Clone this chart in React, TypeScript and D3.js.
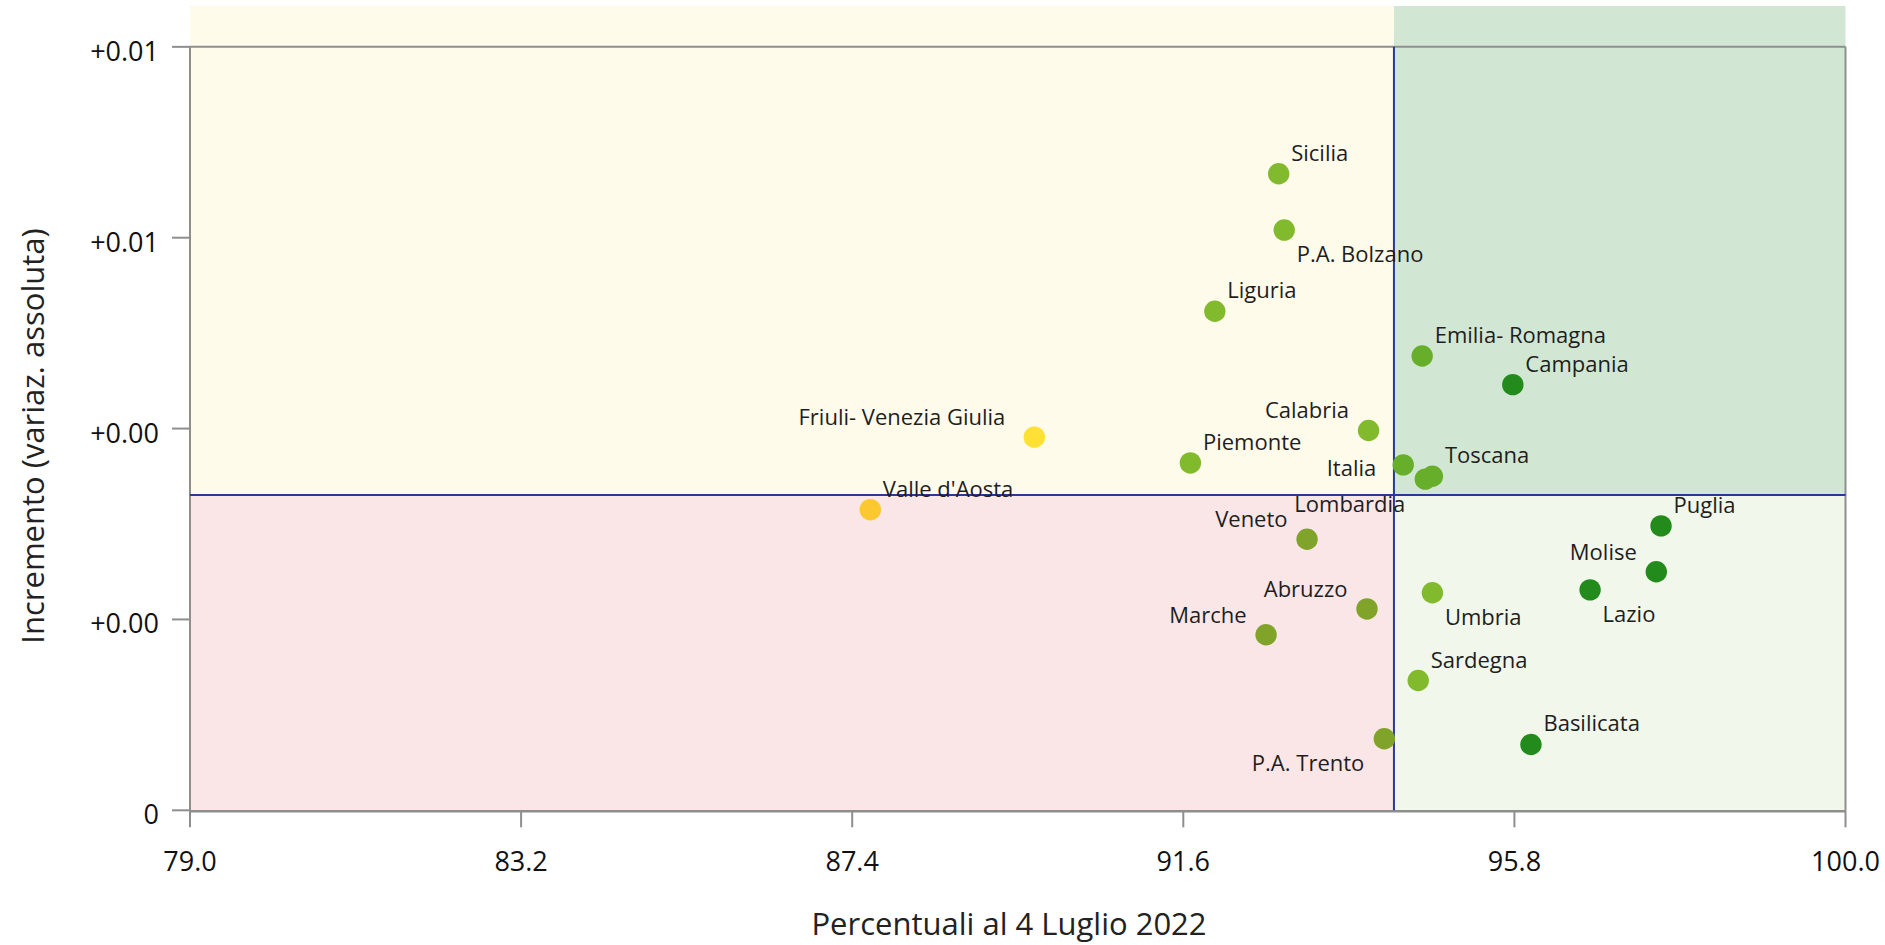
import React from "react";
import * as d3 from "d3";

const regions = ["Sicilia", "P.A. Bolzano", "Liguria", "Emilia- Romagna", "Campania", "Friuli- Venezia Giulia", "Calabria", "Piemonte", "Italia", "Lombardia", "Toscana", "Valle d'Aosta", "Veneto", "Puglia", "Molise", "Lazio", "Umbria", "Abruzzo", "Marche", "Sardegna", "Basilicata", "P.A. Trento"];
const percent = [92.81, 92.88, 92.0, 94.63, 95.78, 89.71, 93.95, 91.69, 94.39, 94.67, 94.76, 87.63, 93.17, 97.66, 97.6, 96.76, 94.76, 93.93, 92.65, 94.58, 96.01, 94.15];
const increment = [0.00667, 0.00608, 0.00523, 0.00476, 0.00446, 0.00391, 0.00398, 0.00364, 0.00362, 0.00347, 0.0035, 0.00315, 0.00284, 0.00298, 0.0025, 0.00231, 0.00228, 0.00211, 0.00184, 0.00136, 0.00069, 0.00075];
const group = ["A", "A", "A", "B", "D", "Y", "A", "A", "B", "B", "B", "O", "C", "D", "D", "D", "A", "C", "C", "A", "D", "C"];
const labelPos = ["ne", "se", "ne", "ne", "ne", "nw2", "nw", "ne", "w", "sw", "ne", "ne", "nw", "ne", "nw", "se", "se", "nw", "nw", "ne", "ne", "sw"];

const xTicks = [79.0, 83.2, 87.4, 91.6, 95.8, 100.0];
const xTickLabels = ["79.0", "83.2", "87.4", "91.6", "95.8", "100.0"];
const yTicks = [0, 0.002, 0.004, 0.006, 0.008];
const yTickLabels = ["0", "+0.00", "+0.00", "+0.01", "+0.01"];

const xDomain = [79, 100];
const yDomain = [0, 0.008428];
const xSplit = 94.272;
const ySplit = 0.003304;

const xTitle = "Percentuali al 4 Luglio 2022";
const yTitle = "Incremento (variaz. assoluta)";

const groupColors = d3.scaleOrdinal<string, string>()
  .domain(["A", "B", "C", "D", "Y", "O"])
  .range(["#82BA2D", "#67AE2A", "#80A32A", "#228B1B", "#FFE135", "#FBC92F"]);

const FONT = "'Open Sans', 'Noto Sans', sans-serif";

export default function App() {
  const W = 1885, H = 945;
  const x = d3.scaleLinear().domain(xDomain).range([190, 1845.5]);
  const y = d3.scaleLinear().domain(yDomain).range([810.3, 6]);
  const left = x(xDomain[0]), right = x(xDomain[1]);
  const top = y(yDomain[1]), bottom = y(yDomain[0]);
  const xs = x(xSplit), ys = y(ySplit);
  const yTop = y(yTicks[yTicks.length - 1]);
  const axisColor = "#8E8E8E";
  const splitColor = "#28399A";

  const labelProps = (pos: string, cx: number, cy: number) => {
    switch (pos) {
      case "ne": return { x: cx + 12.5, y: cy - 13, anchor: "start" };
      case "se": return { x: cx + 12.5, y: cy + 32, anchor: "start" };
      case "nw": return { x: cx - 19.5, y: cy - 12, anchor: "end" };
      case "nw2": return { x: cx - 29, y: cy - 12, anchor: "end" };
      case "sw": return { x: cx - 20, y: cy + 32.5, anchor: "end" };
      default: return { x: cx - 27, y: cy + 11, anchor: "end" };
    }
  };

  return (
    <svg width={W} height={H} style={{ position: "absolute", left: 0, top: 0, fontFamily: FONT }}>
      <rect x={0} y={0} width={W} height={H} fill="#ffffff" />
      {/* quadrants */}
      <rect x={left} y={top} width={xs - left} height={ys - top} fill="#FEFBEB" />
      <rect x={xs} y={top} width={right - xs} height={ys - top} fill="#D2E7D3" />
      <rect x={left} y={ys} width={xs - left} height={bottom - ys} fill="#FAE6E7" />
      <rect x={xs} y={ys} width={right - xs} height={bottom - ys} fill="#F1F7EA" />

      {/* frame */}
      <line x1={left} x2={right} y1={yTop} y2={yTop} stroke={axisColor} strokeWidth={2} />
      <line x1={right} x2={right} y1={yTop} y2={bottom} stroke={axisColor} strokeWidth={2} />
      <line x1={left} x2={left} y1={yTop} y2={bottom + 1} stroke={axisColor} strokeWidth={2} />
      <line x1={left} x2={right} y1={bottom + 1} y2={bottom + 1} stroke={axisColor} strokeWidth={2.5} />

      {/* split lines */}
      <line x1={left} x2={right} y1={ys} y2={ys} stroke={splitColor} strokeWidth={2} />
      <line x1={xs} x2={xs} y1={yTop} y2={bottom} stroke={splitColor} strokeWidth={2} />

      {/* y ticks */}
      {yTicks.map((t, i) => (
        <g key={"yt" + i}>
          <line x1={left - 18} x2={left} y1={y(t)} y2={y(t)} stroke={axisColor} strokeWidth={2} />
          <text x={left - 31} y={y(t) + 14} textAnchor="end" fontSize={27} fill="#111">{yTickLabels[i]}</text>
        </g>
      ))}
      {/* x ticks */}
      {xTicks.map((t, i) => (
        <g key={"xt" + i}>
          <line x1={x(t)} x2={x(t)} y1={bottom} y2={bottom + 17} stroke={axisColor} strokeWidth={2} />
          <text x={x(t)} y={871} textAnchor="middle" fontSize={27} fill="#111">{xTickLabels[i]}</text>
        </g>
      ))}

      {/* axis titles */}
      <text x={1009} y={935} textAnchor="middle" fontSize={31} fill="#222">{xTitle}</text>
      <text transform={`translate(44, 436) rotate(-90)`} textAnchor="middle" fontSize={31} fill="#222">{yTitle}</text>

      {/* points */}
      {regions.map((r, i) => (
        <circle key={"p" + i} cx={x(percent[i])} cy={y(increment[i])} r={10.7} fill={groupColors(group[i])} />
      ))}
      {/* labels */}
      {regions.map((r, i) => {
        const lp = labelProps(labelPos[i], x(percent[i]), y(increment[i]));
        return (
          <text key={"l" + i} x={lp.x} y={lp.y} textAnchor={lp.anchor} fontSize={22} fill="#1E1E1E">{r}</text>
        );
      })}
    </svg>
  );
}
